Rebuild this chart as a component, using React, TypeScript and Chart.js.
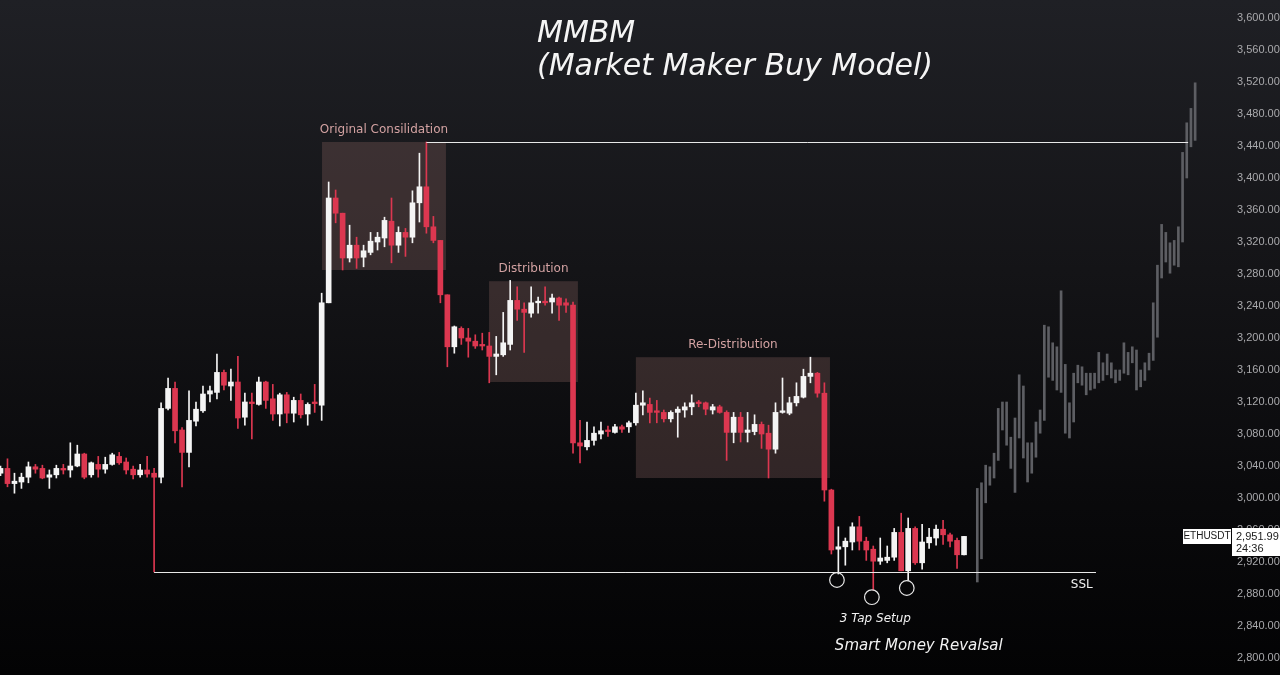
import React, { useEffect, useRef } from 'react';
import { Chart, registerables } from 'chart.js';

Chart.register(...registerables);

// ---- Candles (ETHUSDT), index = bar number ----
const opens = [
  3031, 3037, 3018, 3020, 3026, 3039, 3037, 3026, 3029, 3037,
  3035, 3040, 3055, 3029, 3042, 3036, 3042, 3052, 3045, 3036,
  3029, 3035, 3031, 3026, 3112, 3137, 3085, 3057, 3096, 3109,
  3130, 3132, 3157, 3140, 3145, 3101, 3120, 3117, 3145, 3124,
  3105, 3129, 3106, 3122, 3105, 3120, 3116, 3244, 3375, 3356,
  3300, 3316, 3301, 3307, 3320, 3325, 3346, 3316, 3332, 3326,
  3369, 3389, 3339, 3322, 3254, 3189, 3212, 3200, 3196, 3192,
  3190, 3177, 3179, 3192, 3247, 3236, 3231, 3244, 3246, 3245,
  3250, 3244, 3241, 3069, 3064, 3072, 3080, 3085, 3082, 3089,
  3089, 3094, 3116, 3117, 3109, 3107, 3099, 3107, 3110, 3114,
  3120, 3119, 3110, 3114, 3107, 3082, 3101, 3082, 3083, 3092,
  3081, 3061, 3107, 3106, 3119, 3126, 3152, 3156, 3131, 3010,
  2936, 2939, 2945, 2964, 2946, 2936, 2921, 2922, 2926, 2957,
  2909, 2962, 2919, 2944, 2950, 2961, 2954, 2947, 2929,
];
const highs = [
  3040, 3049, 3031, 3031, 3045, 3042, 3041, 3035, 3041, 3042,
  3069, 3066, 3056, 3045, 3052, 3051, 3056, 3057, 3050, 3040,
  3042, 3052, 3037, 3119, 3150, 3145, 3088, 3134, 3120, 3140,
  3140, 3180, 3160, 3161, 3177, 3131, 3131, 3151, 3146, 3142,
  3131, 3132, 3126, 3130, 3119, 3142, 3256, 3395, 3385, 3356,
  3341, 3326, 3316, 3332, 3332, 3351, 3375, 3339, 3337, 3384,
  3431, 3445, 3352, 3322, 3254, 3215, 3214, 3212, 3204, 3206,
  3207, 3202, 3232, 3272, 3264, 3244, 3264, 3251, 3264, 3255,
  3251, 3249, 3245, 3097, 3095, 3089, 3095, 3090, 3092, 3091,
  3096, 3131, 3134, 3125, 3122, 3110, 3109, 3114, 3119, 3129,
  3122, 3120, 3117, 3116, 3109, 3107, 3107, 3107, 3104, 3095,
  3091, 3119, 3150, 3126, 3144, 3161, 3176, 3157, 3144, 3011,
  2964, 2950, 2969, 2977, 2951, 2940, 2950, 2940, 2962, 2981,
  2975, 2964, 2967, 2962, 2966, 2972, 2956, 2950, 2952,
];
const lows = [
  3028, 3014, 3006, 3012, 3019, 3031, 3024, 3012, 3025, 3030,
  3026, 3039, 3024, 3026, 3026, 3031, 3041, 3042, 3030, 3024,
  3026, 3026, 2907.5, 3019, 3110, 3069, 3014, 3039, 3090, 3107,
  3120, 3124, 3135, 3122, 3087, 3091, 3074, 3116, 3112, 3097,
  3090, 3094, 3095, 3100, 3091, 3107, 3097, 3244, 3344, 3285,
  3295, 3287, 3289, 3304, 3310, 3314, 3294, 3307, 3302, 3319,
  3345, 3331, 3319, 3244, 3164, 3181, 3192, 3176, 3187, 3185,
  3144, 3154, 3177, 3185, 3222, 3182, 3226, 3231, 3241, 3231,
  3222, 3232, 3056, 3044, 3060, 3066, 3074, 3077, 3081, 3082,
  3082, 3091, 3104, 3094, 3094, 3095, 3095, 3076, 3101, 3104,
  3114, 3104, 3105, 3106, 3047, 3069, 3070, 3070, 3079, 3062,
  3025, 3056, 3106, 3104, 3115, 3125, 3144, 3126, 2996, 2930,
  2905, 2916, 2935, 2935, 2922, 2885, 2917, 2919, 2922, 2909,
  2897, 2917, 2911, 2937, 2941, 2942, 2939, 2912, 2929,
];
const closes = [
  3037, 3018, 3021, 3026, 3039, 3036, 3025, 3029, 3037, 3035,
  3040, 3055, 3026, 3044, 3036, 3042, 3054, 3044, 3035, 3029,
  3035, 3030, 3026, 3112, 3137, 3084, 3057, 3097, 3111, 3130,
  3134, 3157, 3141, 3145, 3100, 3120, 3118, 3145, 3122, 3105,
  3129, 3106, 3122, 3104, 3117, 3118, 3244, 3375, 3356, 3300,
  3316, 3300, 3309, 3321, 3326, 3347, 3316, 3332, 3326, 3369,
  3389, 3339, 3322, 3254, 3189, 3214, 3200, 3196, 3190, 3190,
  3177, 3180, 3194, 3247, 3236, 3232, 3244, 3246, 3244, 3250,
  3241, 3241, 3069, 3065, 3072, 3081, 3084, 3083, 3089, 3086,
  3094, 3116, 3119, 3107, 3107, 3099, 3107, 3111, 3114, 3119,
  3118, 3111, 3114, 3107, 3082, 3101, 3082, 3085, 3092, 3080,
  3061, 3107, 3109, 3119, 3127, 3152, 3156, 3131, 3010, 2935,
  2939, 2946, 2964, 2946, 2935, 2921, 2925, 2926, 2957, 2909,
  2962, 2919, 2945, 2951, 2961, 2954, 2946, 2929, 2952,
];

// ---- Projected path (grey, lower timeframe bars) ----
const projLows = [
  2895, 2924, 2994, 3016, 3025, 3047, 3085, 3066, 3037, 3007,
  3075, 3050, 3020, 3031, 3051, 3081, 3097, 3151, 3147, 3135,
  3132, 3081, 3075, 3095, 3144, 3141, 3129, 3135, 3137, 3144,
  3147, 3154, 3150, 3144, 3147, 3156, 3154, 3169, 3135, 3139,
  3147, 3160, 3172, 3201, 3275, 3295, 3281, 3291, 3289, 3320,
  3400, 3439, 3447,
];
const projHighs = [
  3012, 3019, 3041, 3039, 3056, 3112, 3120, 3120, 3076, 3100,
  3154, 3140, 3069, 3069, 3095, 3110, 3216, 3214, 3194, 3189,
  3259, 3167, 3119, 3156, 3166, 3164, 3156, 3156, 3156, 3182,
  3169, 3180, 3169, 3160, 3160, 3194, 3182, 3189, 3185, 3160,
  3169, 3181, 3244, 3291, 3342, 3332, 3319, 3322, 3339, 3432,
  3469, 3487, 3519,
];
const PROJ_START = 139.9; // first projected bar, in candle-index units
const PROJ_STEP = 0.6;    // projected bars are a lower timeframe

// ---- Axis ticks ----
const yTicks = [
  2800, 2840, 2880, 2920, 2960, 3000, 3040, 3080, 3120, 3160, 3200,
  3240, 3280, 3320, 3360, 3400, 3440, 3480, 3520, 3560, 3600,
];
const LAST_PRICE = 2951.99;
const SYMBOL = 'ETHUSDT';
const COUNTDOWN = '24:36';

// ---- Annotations (data units: candle index / price) ----
const zoneLabels = ['Original Consilidation', 'Distribution', 'Re-Distribution'];
const zoneStart = [46.05, 69.97, 91.0];
const zoneEnd = [63.8, 82.7, 118.8];
const zoneTop = [3445, 3271, 3176];
const zoneBottom = [3285, 3145, 3025];

const highLevel = { price: 3445, from: 61, to: 170.1 };
const sslLevel = { price: 2907.5, from: 22, to: 156.9 };
const tapX = [119.8, 124.8, 129.8];
const tapPrice = [2897.5, 2876, 2887.5];

const RED = '#dc3750';
const WHITE = '#f4f4f4';
const GREY = '#5d5e63';

export default function App() {
  const ref = useRef<HTMLCanvasElement>(null);

  useEffect(() => {
    document.body.style.margin = '0';
    const idx = opens.map((_, i) => i);
    const colors = idx.map((i) => (closes[i] >= opens[i] ? WHITE : RED));

    const overlay = {
      id: 'overlay',
      beforeDatasetsDraw(chart: any) {
        const { ctx } = chart;
        const xs = chart.scales.x;
        const ys = chart.scales.y;
        ctx.save();
        zoneLabels.forEach((label, k) => {
          const x0 = xs.getPixelForValue(zoneStart[k]);
          const x1 = xs.getPixelForValue(zoneEnd[k]);
          const y0 = ys.getPixelForValue(zoneTop[k]);
          const y1 = ys.getPixelForValue(zoneBottom[k]);
          ctx.fillStyle = 'rgba(142,102,99,0.30)';
          ctx.fillRect(x0, y0, x1 - x0, y1 - y0);
          ctx.fillStyle = '#d3a2a2';
          ctx.font = '12px "DejaVu Sans"';
          ctx.textAlign = 'center';
          ctx.textBaseline = 'middle';
          ctx.fillText(label, (x0 + x1) / 2, y0 - 12);
        });
        ctx.restore();
      },
      afterDatasetsDraw(chart: any) {
        const { ctx } = chart;
        const xs = chart.scales.x;
        const ys = chart.scales.y;
        ctx.save();
        ctx.strokeStyle = '#e8e8e8';
        ctx.lineWidth = 1;
        [highLevel, sslLevel].forEach((l) => {
          const y = Math.round(ys.getPixelForValue(l.price)) + 0.5;
          ctx.beginPath();
          ctx.moveTo(xs.getPixelForValue(l.from), y);
          ctx.lineTo(xs.getPixelForValue(l.to), y);
          ctx.stroke();
        });
        ctx.lineWidth = 1.2;
        tapX.forEach((tx, k) => {
          ctx.beginPath();
          ctx.arc(xs.getPixelForValue(tx), ys.getPixelForValue(tapPrice[k]), 7.3, 0, Math.PI * 2);
          ctx.stroke();
        });
        ctx.fillStyle = '#f2f2f2';
        ctx.textAlign = 'left';
        ctx.textBaseline = 'alphabetic';
        ctx.font = '12px "DejaVu Sans"';
        ctx.fillText('SSL', xs.getPixelForValue(153.3), ys.getPixelForValue(2887));
        ctx.font = 'italic 12px "DejaVu Sans"';
        ctx.fillText('3 Tap Setup', xs.getPixelForValue(120.2), ys.getPixelForValue(2845));
        ctx.font = 'italic 15px "DejaVu Sans"';
        ctx.fillText('Smart Money Revalsal', xs.getPixelForValue(119.5), ys.getPixelForValue(2810));
        ctx.restore();
      },
      afterDraw(chart: any) {
        const { ctx } = chart;
        const ys = chart.scales.y;
        ctx.save();
        // title
        ctx.fillStyle = '#f5f5f5';
        ctx.font = 'italic 30px "DejaVu Sans"';
        ctx.textAlign = 'left';
        ctx.textBaseline = 'alphabetic';
        ctx.fillText('MMBM', 537, 42);
        ctx.fillText('(Market Maker Buy Model)', 537, 75);
        // last price tags
        const yp = Math.round(ys.getPixelForValue(LAST_PRICE));
        const axL = ys.left;
        ctx.fillStyle = '#ffffff';
        ctx.fillRect(axL - 49, yp - 7, 48, 15);
        ctx.fillRect(axL, yp - 8, 1280 - axL, 28);
        ctx.fillStyle = '#1a1a1a';
        ctx.font = '10px "Liberation Sans"';
        ctx.textAlign = 'center';
        ctx.textBaseline = 'middle';
        ctx.fillText(SYMBOL, axL - 25, yp + 0.5);
        ctx.textAlign = 'left';
        ctx.font = '11px "Liberation Sans"';
        ctx.fillText(LAST_PRICE.toLocaleString('en-US', { minimumFractionDigits: 2 }), axL + 4, yp + 0.5);
        ctx.fillText(COUNTDOWN, axL + 4, yp + 12.5);
        ctx.restore();
      },
    };

    const chart = new Chart(ref.current!, {
      type: 'bar',
      data: {
        datasets: [
          {
            label: 'wicks',
            data: idx.map((i) => ({ x: i, y: [lows[i], highs[i]] })) as any,
            backgroundColor: colors,
            barThickness: 1,
            grouped: false,
            order: 2,
          },
          {
            label: 'bodies',
            data: idx.map((i) => ({ x: i, y: [opens[i], closes[i]] })) as any,
            backgroundColor: colors,
            barThickness: 5,
            minBarLength: 1,
            grouped: false,
            order: 1,
          },
          {
            label: 'projection',
            data: projLows.map((lo, k) => ({ x: PROJ_START + k * PROJ_STEP, y: [lo, projHighs[k]] })) as any,
            backgroundColor: GREY,
            barThickness: 2,
            grouped: false,
            order: 3,
          },
        ],
      },
      options: {
        animation: false,
        responsive: true,
        maintainAspectRatio: false,
        layout: { padding: 0 },
        plugins: { legend: { display: false }, tooltip: { enabled: false } },
        scales: {
          x: {
            type: 'linear',
            display: false,
            offset: false,
            min: -0.0716,
            max: 176.38,
          },
          y: {
            type: 'linear',
            position: 'right',
            min: 2778.75,
            max: 3622.5,
            grid: { display: false, drawTicks: false },
            border: { display: false },
            afterBuildTicks: (scale: any) => {
              scale.ticks = yTicks.map((v) => ({ value: v }));
            },
            afterFit: (scale: any) => {
              scale.width = 48;
              scale.paddingTop = 0;
              scale.paddingBottom = 0;
            },
            ticks: {
              color: '#a9a9ac',
              padding: 5,
              font: { family: 'Liberation Sans', size: 11 },
              callback: (v: any) => Number(v).toLocaleString('en-US', { minimumFractionDigits: 2, maximumFractionDigits: 2 }),
            },
          },
        },
      },
      plugins: [overlay],
    });
    return () => chart.destroy();
  }, []);

  return (
    <div
      style={{
        position: 'fixed',
        left: 0,
        top: 0,
        width: 1280,
        height: 675,
        background: 'linear-gradient(to bottom, #1f2025 0%, #141417 40%, #09090b 75%, #030304 100%)',
      }}
    >
      <canvas ref={ref} />
    </div>
  );
}
